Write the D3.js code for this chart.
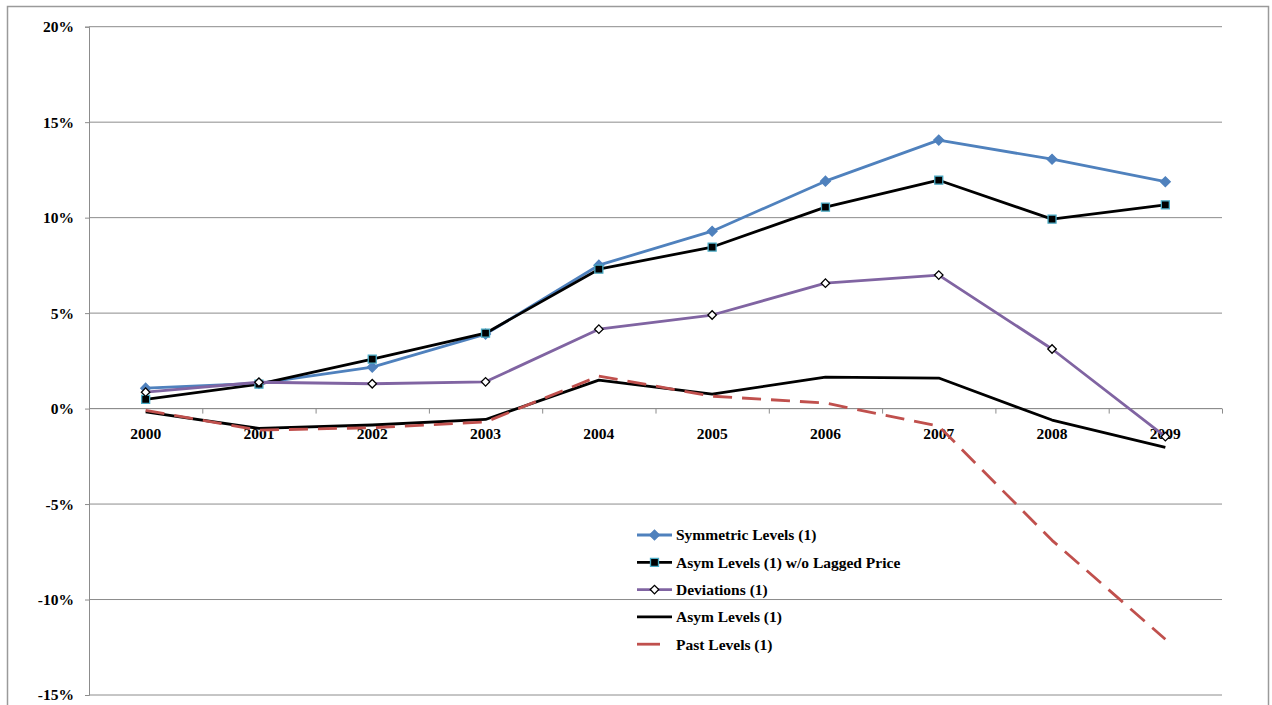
<!DOCTYPE html>
<html>
<head>
<meta charset="utf-8">
<script src="https://cdn.jsdelivr.net/npm/d3@7"></script>
<style>
body { margin: 0; background: #fff; }
text { font-family: "Liberation Serif", "Times New Roman", serif; font-weight: bold; fill: #000; }
</style>
</head>
<body>
<svg width="1272" height="705"></svg>
<script>
var years = ["2000", "2001", "2002", "2003", "2004", "2005", "2006", "2007", "2008", "2009"];
var yTicks = [-15, -10, -5, 0, 5, 10, 15, 20];

var symmetricLevels = [1.07, 1.32, 2.17, 3.9, 7.51, 9.29, 11.91, 14.06, 13.06, 11.88];
var asymNoLag = [0.48, 1.28, 2.59, 3.95, 7.3, 8.46, 10.55, 11.96, 9.92, 10.67];
var deviations = [0.86, 1.38, 1.3, 1.4, 4.16, 4.9, 6.57, 6.99, 3.12, -1.47];
var asymLevels = [-0.17, -1.04, -0.86, -0.57, 1.49, 0.76, 1.65, 1.6, -0.6, -2.03];
var pastLevels = [-0.1, -1.13, -1.0, -0.7, 1.7, 0.65, 0.29, -0.92, -6.9, -12.08];

var seriesNames = ["Symmetric Levels (1)", "Asym Levels (1) w/o Lagged Price", "Deviations (1)", "Asym Levels (1)", "Past Levels (1)"];

var series = [
    { name: seriesNames[0], values: symmetricLevels, color: "#4F81BD", marker: "diamond", fill: "#4F81BD", edge: "#4F81BD", size: 48 },
    { name: seriesNames[1], values: asymNoLag, color: "#000", marker: "square", fill: "#000", edge: "#4BACC6", size: 64 },
    { name: seriesNames[2], values: deviations, color: "#8064A2", marker: "diamond", fill: "#fff", edge: "#000", size: 36 },
    { name: seriesNames[3], values: asymLevels, color: "#000", marker: null },
    { name: seriesNames[4], values: pastLevels, color: "#C0504D", marker: null, dash: "19,10" }
];

var plot = { left: 89, right: 1222, top: 26.7, bottom: 695 };

var svg = d3.select("svg");

// outer frame
svg.append("rect")
    .attr("x", 7.5).attr("y", 6.5)
    .attr("width", 1261).attr("height", 720)
    .attr("fill", "none")
    .attr("stroke", "#9a9a9a")
    .attr("stroke-width", 1.5);

var x = d3.scaleBand().domain(years).range([plot.left, plot.right]).padding(0);
var xEdges = d3.scaleLinear().domain([0, years.length]).range([plot.left, plot.right]);
var y = d3.scaleLinear().domain([-15, 20]).range([plot.bottom, plot.top]);

// gridlines
svg.append("g")
    .selectAll("line")
    .data(yTicks)
    .enter().append("line")
    .attr("x1", plot.left).attr("x2", plot.right)
    .attr("y1", function(d) { return y(d); })
    .attr("y2", function(d) { return y(d); })
    .attr("stroke", "#8c8c8c")
    .attr("stroke-width", 1);

// y axis
var yAxis = svg.append("g")
    .attr("transform", "translate(" + plot.left + ",0)")
    .call(d3.axisLeft(y).tickValues(yTicks).tickSize(4).tickPadding(11)
        .tickFormat(function(d) { return d + "%"; }));
yAxis.select(".domain").attr("stroke", "#8c8c8c");
yAxis.selectAll(".tick line").attr("stroke", "#8c8c8c");
yAxis.selectAll("text").style("font-size", "15.5px").attr("fill", "#000");

// x axis on the zero line, ticks at category edges
var xAxis = svg.append("g")
    .attr("transform", "translate(0," + y(0) + ")")
    .call(d3.axisBottom(xEdges).tickValues(d3.range(years.length + 1)).tickSize(5).tickFormat(""));
xAxis.select(".domain").attr("stroke", "#8c8c8c").attr("d", "M" + plot.left + ",0H" + plot.right);
xAxis.selectAll(".tick line").attr("stroke", "#8c8c8c");

var xLabels = svg.append("g")
    .attr("transform", "translate(0," + y(0) + ")")
    .call(d3.axisBottom(x).tickSize(0).tickPadding(19));
xLabels.select(".domain").remove();
xLabels.selectAll("text").style("font-size", "15.5px").attr("fill", "#000");

var line = d3.line()
    .x(function(d, i) { return x(years[i]) + x.bandwidth() / 2; })
    .y(function(d) { return y(d); });

function markerPath(s) {
    return d3.symbol().type(d3.symbolSquare).size(s.size)();
}
function markerRot(s) {
    return s.marker === "diamond" ? " rotate(45)" : "";
}

series.forEach(function(s) {
    svg.append("path")
        .datum(s.values)
        .attr("fill", "none")
        .attr("stroke", s.color)
        .attr("stroke-width", 2.8)
        .attr("stroke-dasharray", s.dash || null)
        .attr("stroke-linejoin", "round")
        .attr("d", line);

    if (s.marker) {
        svg.append("g")
            .selectAll("path")
            .data(s.values)
            .enter().append("path")
            .attr("transform", function(d, i) {
                return "translate(" + (x(years[i]) + x.bandwidth() / 2) + "," + y(d) + ")" + markerRot(s);
            })
            .attr("d", markerPath(s))
            .attr("fill", s.fill)
            .attr("stroke", s.edge)
            .attr("stroke-width", 1.3);
    }
});

// legend
var legend = svg.append("g").attr("transform", "translate(637,535)");
var rows = legend.selectAll("g")
    .data(series)
    .enter().append("g")
    .attr("transform", function(d, i) { return "translate(0," + (i * 27.3) + ")"; });

rows.append("line")
    .attr("x1", 0)
    .attr("x2", function(d) { return d.dash ? 23 : 35; })
    .attr("stroke", function(d) { return d.color; })
    .attr("stroke-width", 2.8);

rows.filter(function(d) { return d.marker; })
    .append("path")
    .attr("transform", function(d) { return "translate(17.5,0)" + markerRot(d); })
    .attr("d", function(d) { return markerPath(d); })
    .attr("fill", function(d) { return d.fill; })
    .attr("stroke", function(d) { return d.edge; })
    .attr("stroke-width", 1.3);

rows.append("text")
    .attr("x", 39)
    .attr("dy", "0.35em")
    .style("font-size", "15.5px")
    .text(function(d) { return d.name; });
</script>
</body>
</html>
